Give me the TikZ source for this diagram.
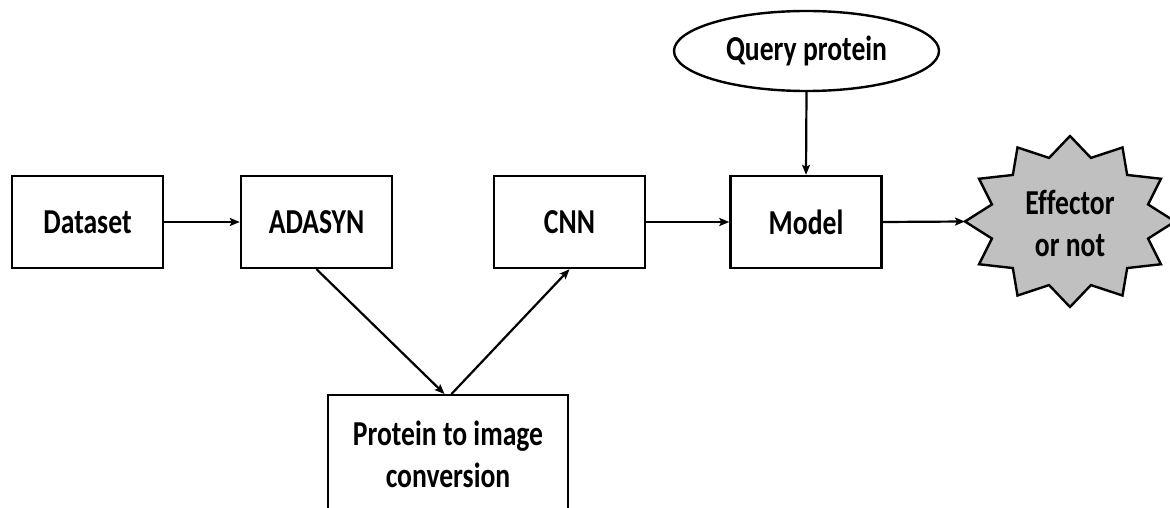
\documentclass[tikz,border=0pt]{standalone}
\usepackage{fontspec}
\setmainfont{Carlito}[FakeStretch=0.79,Ligatures=NoCommon]
\usetikzlibrary{arrows.meta,shapes.geometric}
\definecolor{starfill}{RGB}{192,192,192}
\begin{document}
\begin{tikzpicture}[x=1pt,y=-1pt,
  lab/.style={font=\fontsize{35}{42}\selectfont\bfseries,align=center},
  box/.style={lab,draw,line width=2.4pt,minimum width=151pt,minimum height=92pt,inner sep=0pt},
  conn/.style={line width=2.2pt,-{Stealth[length=10pt,width=8pt,inset=2pt]}}]
\clip (0,0) rectangle (1170,508);
\node[box] (data) at (87.5,222) {Dataset};
\node[box] (ada) at (316.5,222) {ADASYN};
\node[box] (cnn) at (569.5,222) {CNN};
\node[box] (model) at (806,222) {Model};
\node[lab,draw,ellipse,line width=2.4pt,minimum width=265pt,minimum height=80pt,inner sep=0pt] (query) at (806.5,51) {Query protein};
\node[draw,line width=2.4pt,minimum width=240pt,minimum height=140pt,inner sep=0pt,anchor=north] (conv) at (448,394) {};
\node[lab] (convtext) at (448,454) {Protein to image\\conversion};
\draw[line width=2.4pt,fill=starfill,line join=miter]
  plot[samples at={0,...,23}] ({1070+105*(1-0.23*mod(\x,2))*cos(180-\x*15)},{221.5-85.5*(1-0.23*mod(\x,2))*sin(180-\x*15)}) -- cycle;
\coordinate (starL) at (965,221.5);
\node[lab] (eff) at (1070,223) {Effector\\or not};
\draw[conn] (data.east) -- (ada.west);
\draw[conn] (ada.south) -- ([xshift=-3.5pt]conv.north);
\draw[conn] ([xshift=3.5pt]conv.north) -- (cnn.south);
\draw[conn] (cnn.east) -- (model.west);
\draw[conn] (query.south) -- (model.north);
\draw[conn] (model.east) -- (starL);
\end{tikzpicture}
\end{document}
